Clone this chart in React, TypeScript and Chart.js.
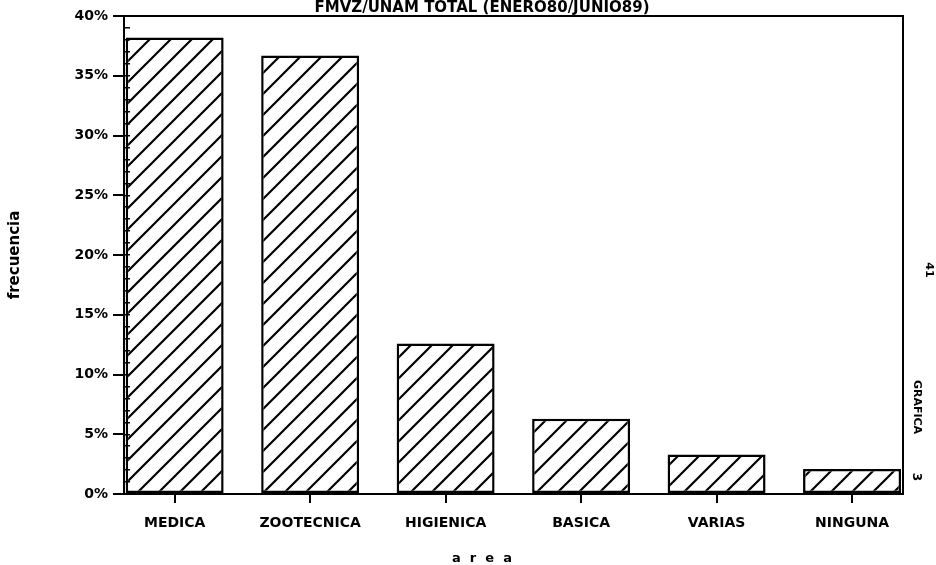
import React, { useEffect, useRef } from 'react';
import { Chart, registerables } from 'chart.js';

Chart.register(...registerables);

// ---- data ----
const categories = ['MEDICA', 'ZOOTECNICA', 'HIGIENICA', 'BASICA', 'VARIAS', 'NINGUNA'];
const frecuencia = [38.2, 36.7, 12.6, 6.3, 3.3, 2.1];
const yTickStep = 5;
const yMinorStep = 1;
const yMax = 40;
const yTickSuffix = '%';
const chartTitle = 'FMVZ/UNAM TOTAL (ENERO80/JUNIO89)';
const yTitle = 'frecuencia';
const xTitle = 'a  r  e  a';
const pageNote = '41';
const graphNote = 'GRAFICA';
const graphNumber = '3';

// ---- layout / style ----
const FONT = '"DejaVu Sans", "Liberation Sans", sans-serif';
const CANVAS_W = 964;
const CANVAS_H = 565;
const X_MIN = -0.374;
const X_MAX = 5.376;
const X_MINOR_POS = -0.33;

function makeHatch(): CanvasPattern | string {
  const s = 21;
  const c = document.createElement('canvas');
  c.width = s;
  c.height = s;
  const g = c.getContext('2d');
  if (!g) return '#fff';
  g.fillStyle = '#fff';
  g.fillRect(0, 0, s, s);
  g.strokeStyle = '#000';
  g.lineWidth = 2.2;
  g.beginPath();
  g.moveTo(-3, 3);
  g.lineTo(3, -3);
  g.moveTo(-3, s + 3);
  g.lineTo(s + 3, -3);
  g.moveTo(s - 3, s + 3);
  g.lineTo(s + 3, s - 3);
  g.stroke();
  const p = g.createPattern(c, 'repeat');
  return p || '#fff';
}

export default function App() {
  const ref = useRef<HTMLCanvasElement | null>(null);

  useEffect(() => {
    const canvas = ref.current;
    if (!canvas) return;
    const hatch = makeHatch();
    const black = '#000';
    const chart = new Chart(canvas, {
      type: 'bar',
      data: {
        datasets: [
          {
            data: categories.map((_, i) => ({ x: i, y: frecuencia[i] })),
            backgroundColor: hatch as any,
            borderColor: black,
            borderWidth: 2.5,
            borderSkipped: false,
            barPercentage: 0.723,
            categoryPercentage: 1,
            xAxisID: 'x',
            yAxisID: 'y',
          },
        ],
      },
      options: {
        animation: false,
        responsive: false,
        maintainAspectRatio: false,
        layout: { padding: 0 },
        plugins: {
          legend: { display: false },
          tooltip: { enabled: false },
          title: {
            display: true,
            text: chartTitle,
            color: black,
            font: { family: FONT, size: 15, weight: 'bold', lineHeight: 1 },
            padding: { top: 1, bottom: 0 },
          },
          subtitle: {
            display: true,
            position: 'bottom',
            text: xTitle,
            color: black,
            font: { family: FONT, size: 13, weight: 'bold', lineHeight: 1 },
            padding: { top: 0, bottom: 0 },
          },
        },
        scales: {
          x: {
            type: 'linear',
            axis: 'x',
            position: 'bottom',
            min: X_MIN,
            max: X_MAX,
            offset: false,
            ticks: {
              stepSize: 1,
              includeBounds: false,
              autoSkip: false,
              maxRotation: 0,
              minRotation: 0,
              padding: 12,
              color: black,
              font: { family: FONT, size: 14, weight: 'bold' },
              callback: (v: any) => (categories[v as number] ?? ''),
            },
            grid: {
              display: true,
              drawOnChartArea: false,
              drawTicks: true,
              offset: false,
              tickLength: 9,
              color: black,
              lineWidth: 2,
            },
            border: { display: true, color: black, width: 2 },
            afterFit: (s: any) => {
              s.height = 58;
            },
          },
          xTop: {
            type: 'linear',
            axis: 'x',
            position: 'top',
            min: X_MIN,
            max: X_MAX,
            offset: false,
            ticks: { display: false },
            grid: { display: true, drawOnChartArea: false, drawTicks: false, color: black, lineWidth: 2 },
            border: { display: true, color: black, width: 2 },
            afterFit: (s: any) => {
              s.height = 0;
            },
          },
          y: {
            type: 'linear',
            axis: 'y',
            position: 'left',
            min: 0,
            max: yMax,
            ticks: {
              stepSize: yTickStep,
              padding: 5,
              color: black,
              font: { family: FONT, size: 14, weight: 'bold' },
              callback: (v: any) => `${v}${yTickSuffix}`,
            },
            grid: {
              display: true,
              drawOnChartArea: false,
              drawTicks: true,
              tickLength: 11,
              color: black,
              lineWidth: 2,
            },
            border: { display: true, color: black, width: 2, z: 1 },
            title: {
              display: true,
              text: yTitle,
              color: black,
              font: { family: FONT, size: 15, weight: 'bold', lineHeight: 1 },
              padding: { top: 8, bottom: 0 },
            },
            afterFit: (s: any) => {
              s.width = 124;
            },
          },
          yMinor: {
            type: 'linear',
            axis: 'y',
            position: { x: X_MINOR_POS } as any,
            min: 0,
            max: yMax,
            ticks: { display: false, stepSize: yMinorStep },
            grid: {
              display: true,
              z: 1,
              drawOnChartArea: false,
              drawTicks: true,
              tickLength: 6,
              color: black,
              lineWidth: 1.5,
            },
            border: { display: false },
          },
          yRight: {
            type: 'linear',
            axis: 'y',
            position: 'right',
            min: 0,
            max: yMax,
            ticks: { display: false },
            grid: { display: true, drawOnChartArea: false, drawTicks: false, color: black, lineWidth: 2 },
            border: { display: true, color: black, width: 2 },
            afterFit: (s: any) => {
              s.width = CANVAS_W - 903;
            },
          },
        } as any,
      },
    });
    return () => chart.destroy();
  }, []);

  const noteStyle = (left: number, top: number, size: number): React.CSSProperties => ({
    position: 'absolute',
    left,
    top,
    transform: 'translate(-50%, -50%) rotate(90deg)',
    font: `bold ${size}px ${FONT}`,
    lineHeight: 1,
    whiteSpace: 'nowrap',
    color: '#000',
  });

  return (
    <div
      style={{
        position: 'absolute',
        left: 0,
        top: 0,
        width: 936,
        height: 565,
        overflow: 'hidden',
        background: '#fff',
      }}
    >
      <canvas
        ref={ref}
        width={CANVAS_W}
        height={CANVAS_H}
        style={{ position: 'absolute', left: 0, top: 0, width: CANVAS_W, height: CANVAS_H }}
      />
      <span style={noteStyle(929, 270, 11)}>{pageNote}</span>
      <span style={noteStyle(917, 407, 11)}>{graphNote}</span>
      <span style={noteStyle(917, 477, 12)}>{graphNumber}</span>
    </div>
  );
}
